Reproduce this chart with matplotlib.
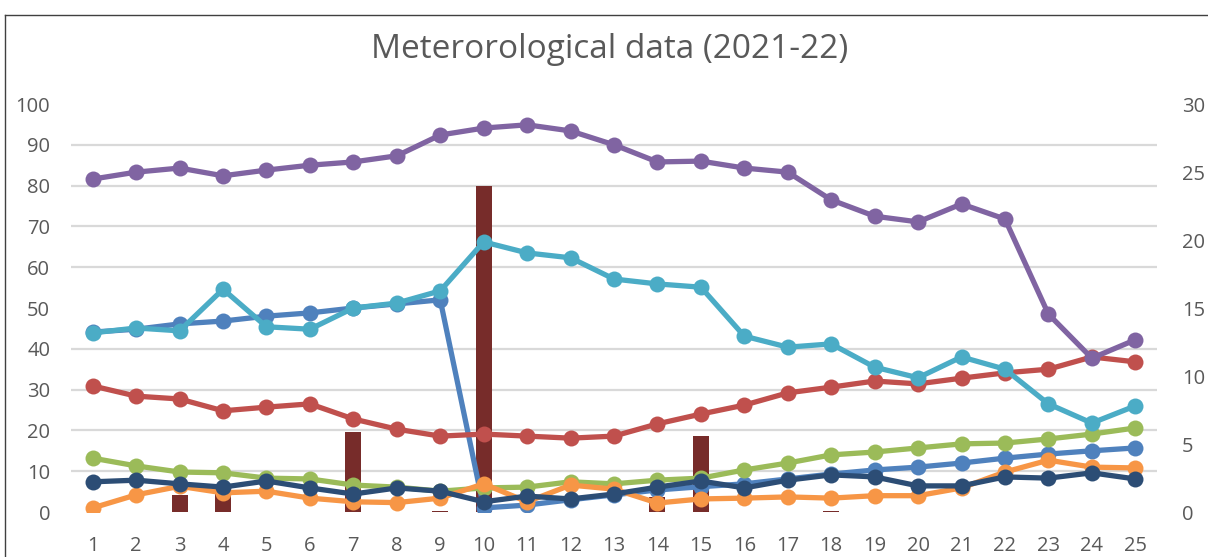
import matplotlib
matplotlib.use("Agg")
import matplotlib.pyplot as plt
import numpy as np
from matplotlib.lines import Line2D

days = list(range(1, 26))

s_blue = [44.1, 44.8, 46.1, 46.8, 48.0, 48.8, 50.0, 51.0, 52.0, 1.0, 1.7, 3.0, 4.2, 5.4, 6.2,
          6.9, 8.1, 9.3, 10.3, 11.0, 12.0, 13.2, 14.2, 15.0, 15.7]
s_red = [30.9, 28.4, 27.7, 24.8, 25.7, 26.5, 22.8, 20.3, 18.6, 19.1, 18.6, 18.1, 18.6, 21.6, 24.0,
         26.2, 29.2, 30.6, 32.1, 31.4, 32.8, 34.1, 35.0, 38.0, 36.8]
s_green = [13.2, 11.3, 9.8, 9.6, 8.3, 8.1, 6.6, 6.1, 5.1, 5.9, 6.1, 7.4, 6.9, 7.8, 8.3,
           10.3, 12.0, 14.0, 14.7, 15.7, 16.7, 16.9, 17.9, 19.1, 20.6]
s_purple = [81.6, 83.3, 84.3, 82.4, 83.8, 85.0, 85.8, 87.3, 92.4, 94.1, 94.9, 93.4, 90.0, 85.8, 86.0,
            84.3, 83.3, 76.5, 72.5, 71.1, 75.5, 71.8, 48.5, 37.7, 42.2]
s_cyan = [43.9, 45.1, 44.4, 54.6, 45.4, 44.8, 50.0, 51.2, 54.2, 66.2, 63.5, 62.3, 57.1, 55.9, 55.1,
          43.1, 40.4, 41.2, 35.5, 32.9, 38.0, 35.0, 26.5, 21.8, 26.0]
s_orange = [1.0, 4.2, 6.3, 4.7, 5.1, 3.4, 2.5, 2.3, 3.4, 6.9, 2.5, 6.6, 5.6, 2.2, 3.2,
            3.4, 3.7, 3.4, 4.0, 4.0, 5.9, 9.8, 12.7, 11.0, 10.8]
s_navy = [7.4, 7.8, 6.9, 6.1, 7.6, 5.9, 4.4, 5.9, 5.1, 2.5, 3.9, 3.2, 4.4, 6.1, 7.6,
          5.9, 7.8, 9.1, 8.6, 6.4, 6.4, 8.6, 8.3, 9.6, 8.1]
rain = [0, 0, 1.25, 1.3, 0, 0, 5.9, 0, 0.1, 24.0, 0, 0, 0, 1.1, 5.6,
        0, 0, 0.1, 0, 0, 0, 0, 0, 0, 0]

left_ticks = list(range(0, 101, 10))
right_ticks = list(range(0, 31, 5))

series = [
    (s_blue, "#4F81BD"),
    (s_red, "#C0504D"),
    (s_green, "#9BBB59"),
    (s_purple, "#8064A2"),
    (s_cyan, "#4BACC6"),
    (s_orange, "#F79646"),
    (s_navy, "#2C4D75"),
]

plt.rcParams['font.family'] = ['Open Sans', 'DejaVu Sans']
W, H = 1208, 557
fig = plt.figure(figsize=(W / 100, H / 100), dpi=100)

x0, x1, ytop, ybot = 71, 1157, 104, 512
rect = [x0 / W, (H - ybot) / H, (x1 - x0) / W, (ybot - ytop) / H]

ax2 = fig.add_axes(rect)  # bars + grid (behind)
ax = fig.add_axes(rect, sharex=ax2)  # lines (front)
ax.set_zorder(ax2.get_zorder() + 1)
ax.patch.set_visible(False)

ax2.bar(days, rain, width=0.37, color="#772C2A", zorder=2)
ax2.set_ylim(0, 30)
ax2.set_yticks(right_ticks)
ax2.set_yticks(np.arange(0, 31, 3), minor=True)
ax2.yaxis.tick_right()
ax2.yaxis.set_label_position("right")
ax2.grid(True, which="minor", axis="y", color="#D9D9D9", lw=1.6, zorder=0)
ax2.set_axisbelow(True)
ax2.tick_params(axis="y", which="both", length=0, pad=18, labelsize=14.5, labelcolor="#595959")
ax2.tick_params(axis="x", length=0)

for vals, col in series:
    ax.plot(days, vals, color=col, lw=3.8, marker="o", markersize=11.5,
            markeredgewidth=0, solid_joinstyle="round")

ax.set_ylim(0, 100)
ax.set_yticks(left_ticks)
ax.set_xlim(0.5, 25.5)
ax.set_xticks(days)
ax.tick_params(axis="y", length=0, pad=15, labelsize=14.5, labelcolor="#595959")
ax.tick_params(axis="x", length=0, pad=17, labelsize=14.5, labelcolor="#595959")
ax2.tick_params(axis="x", labelbottom=False)

for a in (ax, ax2):
    for s in a.spines.values():
        s.set_visible(False)

fig.text(0.505, 1 - 49 / H, "Meterorological data (2021-22)", ha="center", va="center",
         fontsize=24, color="#595959")

# chart frame
fig.add_artist(Line2D([4.5 / W, 4.5 / W], [0, 1 - 14.5 / H], transform=fig.transFigure,
                      color="#404040", lw=1.0))
fig.add_artist(Line2D([4.5 / W, 1], [1 - 14.5 / H, 1 - 14.5 / H], transform=fig.transFigure,
                      color="#404040", lw=1.0))

fig.savefig("out.png", dpi=100)
